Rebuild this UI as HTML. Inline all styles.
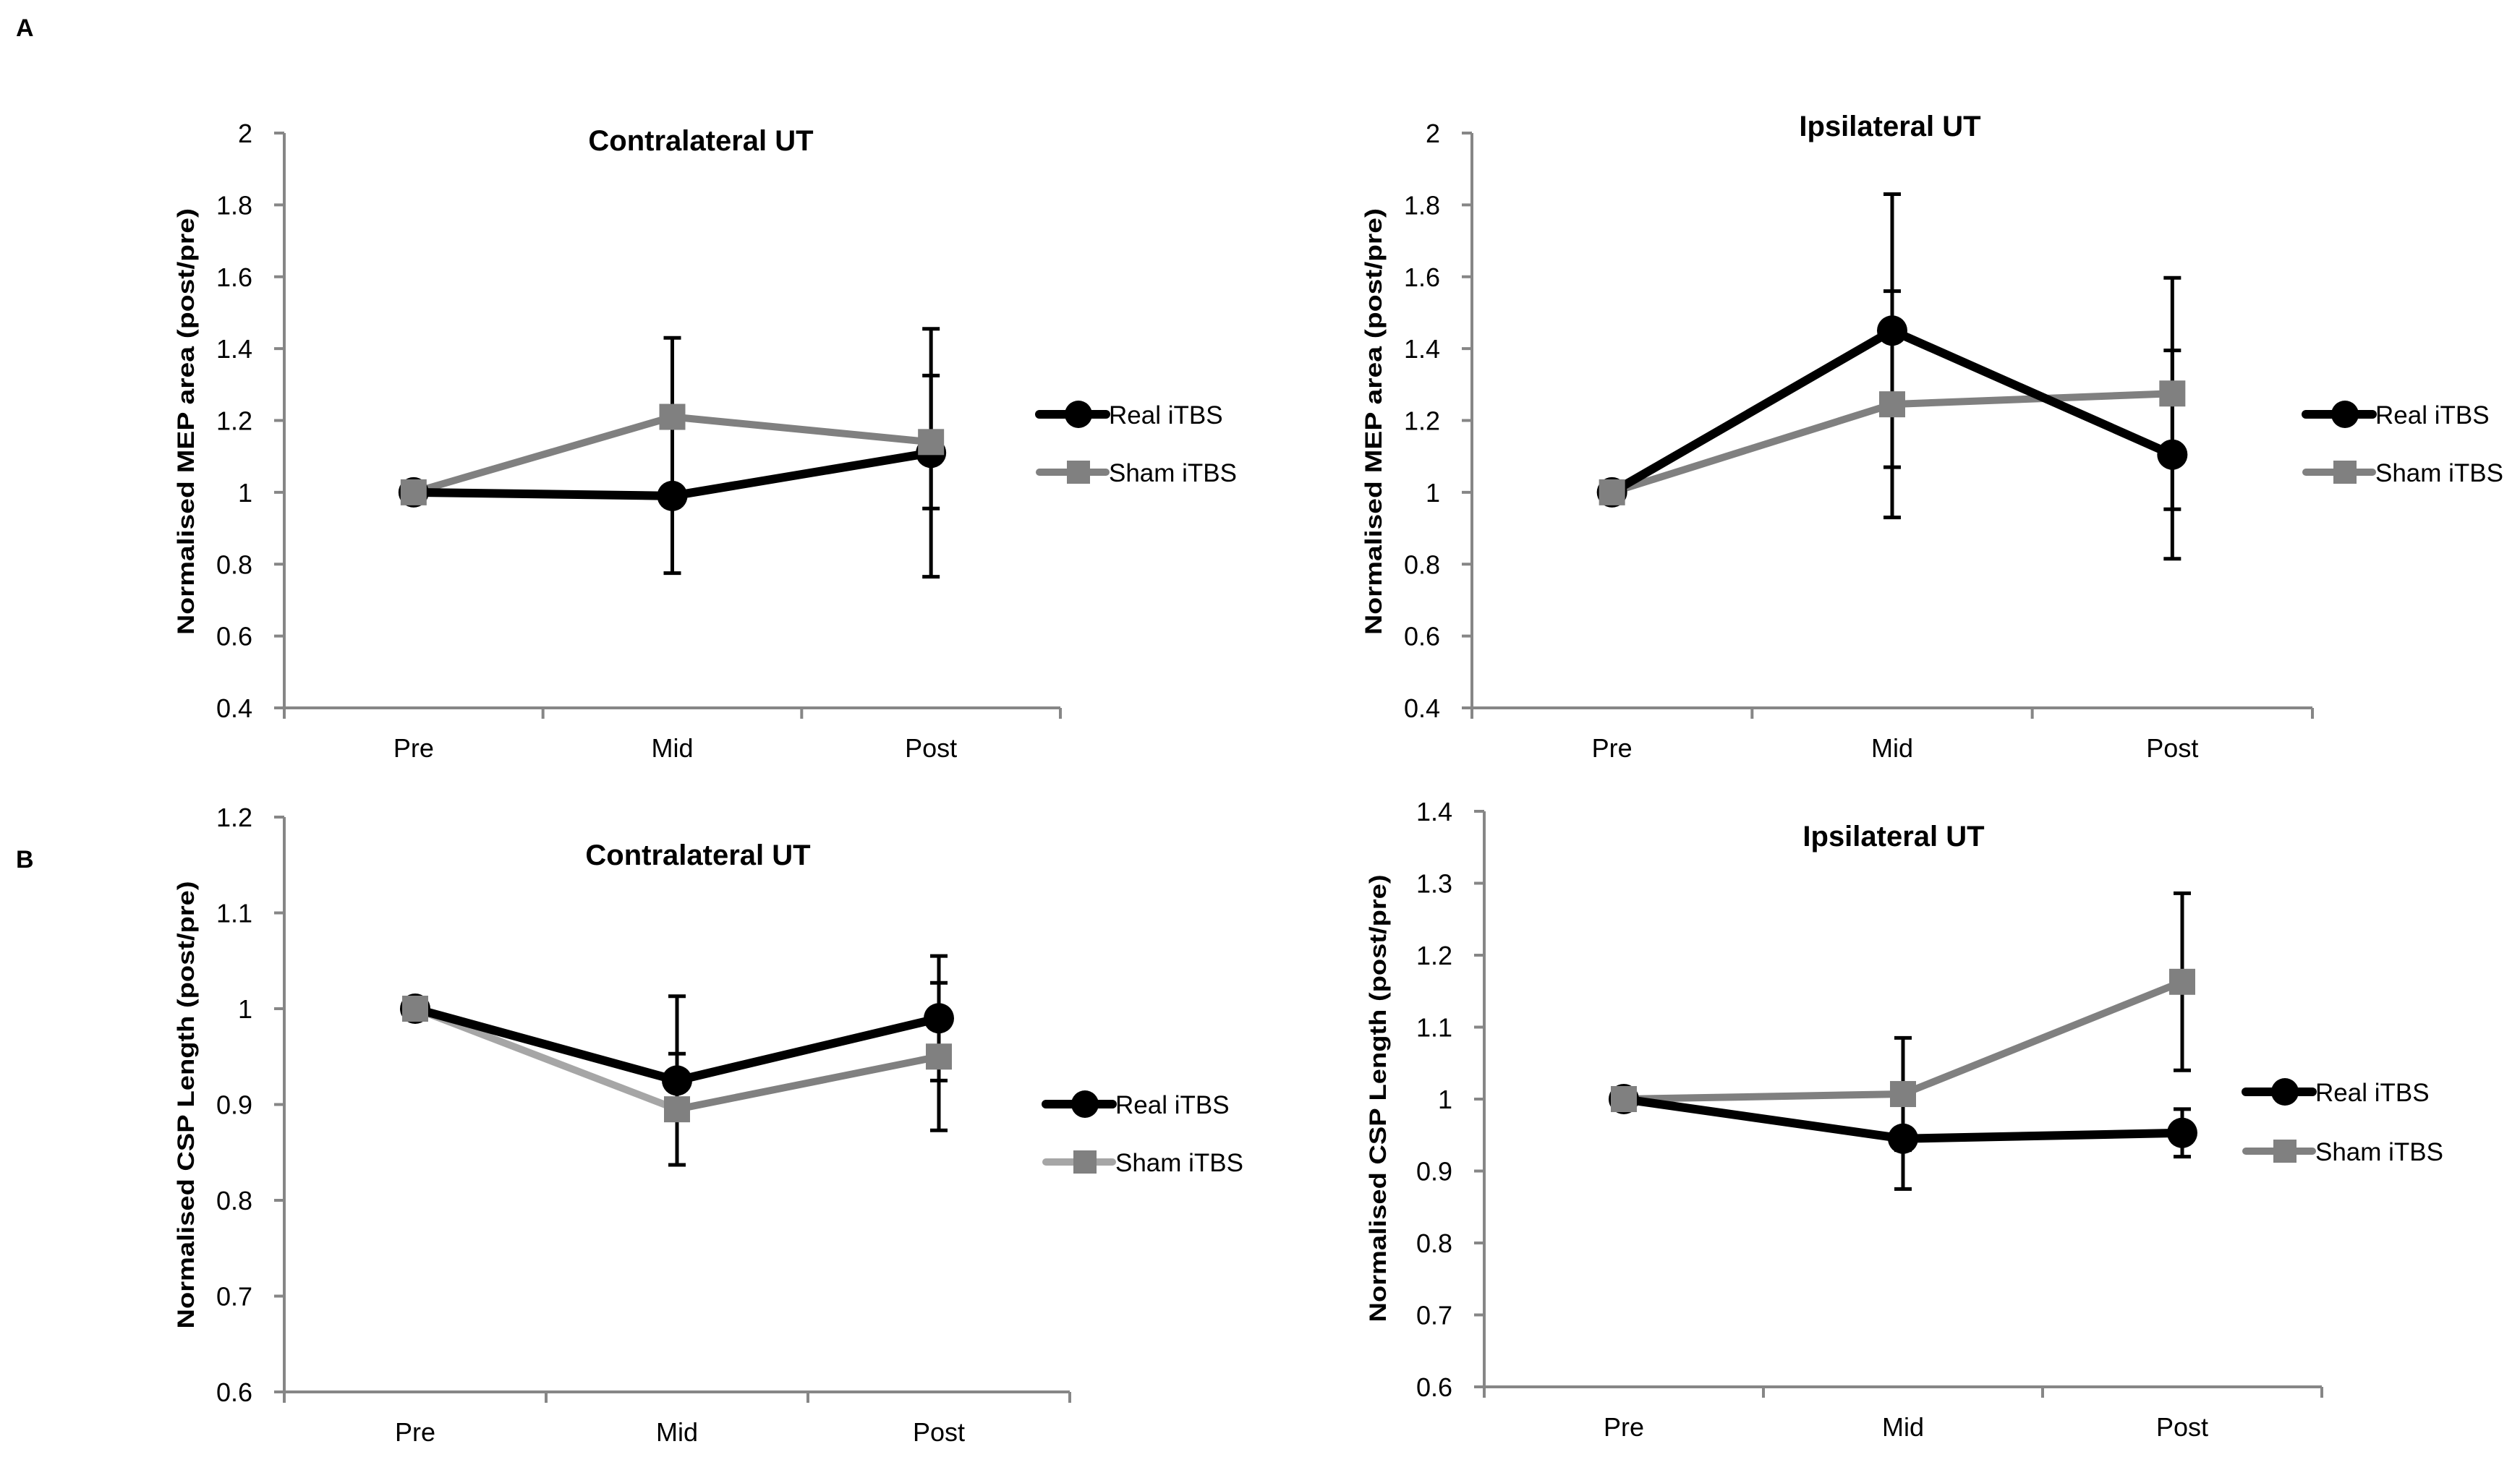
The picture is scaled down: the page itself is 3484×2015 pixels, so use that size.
<!DOCTYPE html>
<html><head><meta charset="utf-8"><style>
html,body{margin:0;padding:0;background:#fff;}
svg{display:block;}
text{font-family:"Liberation Sans",sans-serif;}
</style></head><body>
<svg id="fig" width="3484" height="2015" viewBox="0 0 3484 2015">
<text x="22" y="50" font-size="34" font-weight="bold">A</text>
<text x="22" y="1200" font-size="34" font-weight="bold">B</text>
</svg>
<script>
const categories = ["Pre", "Mid", "Post"];
// A left: Contralateral MEP
const aLeftReal = [1, 0.99, 1.11];
const aLeftRealErr = [0, 0.215, 0.345];
const aLeftSham = [1, 1.21, 1.14];
const aLeftShamErr = [0, 0.22, 0.185];
const aLeftTicks = [0.4, 0.6, 0.8, 1, 1.2, 1.4, 1.6, 1.8, 2];
// A right: Ipsilateral MEP
const aRightReal = [1, 1.45, 1.105];
const aRightRealErr = [0, 0.38, 0.29];
const aRightSham = [1, 1.245, 1.275];
const aRightShamErr = [0, 0.315, 0.322];
const aRightTicks = [0.4, 0.6, 0.8, 1, 1.2, 1.4, 1.6, 1.8, 2];
// B left: Contralateral CSP
const bLeftReal = [1, 0.925, 0.99];
const bLeftRealErr = [0, 0.088, 0.065];
const bLeftSham = [1, 0.895, 0.95];
const bLeftShamErr = [0, 0.058, 0.077];
const bLeftTicks = [0.6, 0.7, 0.8, 0.9, 1, 1.1, 1.2];
// B right: Ipsilateral CSP
const bRightReal = [1, 0.945, 0.953];
const bRightRealErr = [0, 0.07, 0.033];
const bRightSham = [1, 1.007, 1.163];
const bRightShamErr = [0, 0.078, 0.123];
const bRightTicks = [0.6, 0.7, 0.8, 0.9, 1, 1.1, 1.2, 1.3, 1.4];
const legendLabels = ["Real iTBS", "Sham iTBS"];

const NS = "http://www.w3.org/2000/svg";
const svg = document.getElementById("fig");
function mk(tag, attrs, parent, txt) {
  const e = document.createElementNS(NS, tag);
  for (const k in attrs) e.setAttribute(k, attrs[k]);
  if (txt !== undefined) e.textContent = txt;
  (parent || svg).appendChild(e);
  return e;
}

function chart(cfg) {
  const g = mk("g", {});
  
  
  const ymin = cfg.ticks[0], ymax = cfg.ticks[cfg.ticks.length - 1];
  const yS = v => cfg.bottom - (v - ymin) / (ymax - ymin) * (cfg.bottom - cfg.top);
  const band = (cfg.right - cfg.left) / categories.length;
  const xS = i => cfg.left + band * (i + 0.5);
  const ya = mk("line", {x1: cfg.left, y1: cfg.top, x2: cfg.left, y2: cfg.bottom, stroke: "#868686", "stroke-width": 4}, g);
  
  
  const xa = mk("line", {x1: cfg.left - 2, y1: cfg.bottom, x2: cfg.right, y2: cfg.bottom, stroke: "#868686", "stroke-width": 4}, g);
  
  
  cfg.ticks.forEach(t => {
    const y = yS(t);
    mk("line", {x1: cfg.left - 14, y1: y, x2: cfg.left, y2: y, stroke: "#868686", "stroke-width": 4}, g);
    const tl = mk("text", {x: cfg.left - 44, y: y + 13, "font-size": 36, "text-anchor": "end", fill: "#000"}, g, String(t));
    
    
  });
  for (let i = 0; i <= categories.length; i++) {
    const x = cfg.left + band * i;
    mk("line", {x1: x, y1: cfg.bottom, x2: x, y2: cfg.bottom + 15, stroke: "#868686", "stroke-width": 4}, g);
  }
  categories.forEach((c, i) => {
    const tl = mk("text", {x: xS(i), y: cfg.bottom + 68, "font-size": 36, "text-anchor": "middle"}, g, c);
    
    
  });
  const tt = mk("text", {x: cfg.titleX, y: cfg.titleY, "font-size": 40, "font-weight": "bold", "text-anchor": "middle"}, g, cfg.title);
  
  
  const yl = mk("text", {x: 0, y: 0, "font-size": 32, "font-weight": "bold", "text-anchor": "middle",
    transform: `translate(${cfg.ylX},${cfg.ylY}) rotate(-90)`, textLength: cfg.ylLen, lengthAdjust: "spacingAndGlyphs"}, g, cfg.ylabel);
  
  
  function errs(vals, e) {
    vals.forEach((v, i) => {
      if (!e[i]) return;
      const x = xS(i), y1 = yS(v + e[i]), y2 = yS(v - e[i]);
      const eb = mk("g", {stroke: "#000", "stroke-width": 5}, g);
      
      
      mk("line", {x1: x, y1: y1, x2: x, y2: y2}, eb);
      mk("line", {x1: x - 12, y1: y1, x2: x + 12, y2: y1}, eb);
      mk("line", {x1: x - 12, y1: y2, x2: x + 12, y2: y2}, eb);
    });
  }
  errs(cfg.real, cfg.realErr);
  errs(cfg.sham, cfg.shamErr);
  for (let i = 0; i < cfg.sham.length - 1; i++) {
    const col = (cfg.lightFirst && i === 0) ? "#a6a6a6" : "#808080";
    const sl = mk("line", {x1: xS(i), y1: yS(cfg.sham[i]), x2: xS(i + 1), y2: yS(cfg.sham[i + 1]), stroke: col, "stroke-width": 10}, g);
    
    
  }
  const drawReal = () => {
    const pts = cfg.real.map((v, i) => xS(i) + "," + yS(v)).join(" ");
    const rl = mk("polyline", {points: pts, fill: "none", stroke: "#000", "stroke-width": 12, "stroke-linejoin": "round"}, g);
    
    
    cfg.real.forEach((v, i) => {
      const c = mk("circle", {cx: xS(i), cy: yS(v), r: 21, fill: "#000"}, g);
      
      
    });
  };
  const drawShamPts = () => {
    cfg.sham.forEach((v, i) => {
      const s = mk("rect", {x: xS(i) - 18, y: yS(v) - 18, width: 36, height: 36, fill: "#808080"}, g);
      
      
    });
  };
  drawReal(); drawShamPts();
  const lx1 = cfg.legX, lx2 = cfg.legX + 92, mx = (lx1 + lx2) / 2 + 8;
  const le1 = mk("g", {}, g);
  
  
  mk("line", {x1: lx1, y1: cfg.legY1, x2: lx2, y2: cfg.legY1, stroke: "#000", "stroke-width": 12, "stroke-linecap": "round"}, le1);
  mk("circle", {cx: mx, cy: cfg.legY1, r: 19, fill: "#000"}, le1);
  mk("text", {x: lx2 + 4, y: cfg.legY1 + 13, "font-size": 35}, le1, legendLabels[0]);
  const le2 = mk("g", {}, g);
  
  
  mk("line", {x1: lx1, y1: cfg.legY2, x2: lx2, y2: cfg.legY2, stroke: cfg.lightFirst ? "#a6a6a6" : "#808080", "stroke-width": 10, "stroke-linecap": "round"}, le2);
  mk("rect", {x: mx - 16, y: cfg.legY2 - 16, width: 32, height: 32, fill: "#808080"}, le2);
  mk("text", {x: lx2 + 4, y: cfg.legY2 + 13, "font-size": 35}, le2, legendLabels[1]);
}

chart({name: "chart-a-contralateral", left: 393, right: 1466, top: 184, bottom: 979, ticks: aLeftTicks,
  real: aLeftReal, realErr: aLeftRealErr, sham: aLeftSham, shamErr: aLeftShamErr,
  title: "Contralateral UT", titleX: 969, titleY: 208, ylabel: "Normalised MEP area (post/pre)", ylX: 268, ylY: 583, ylLen: 590,
  legX: 1437, legY1: 573, legY2: 653});
chart({name: "chart-a-ipsilateral", left: 2035, right: 3197, top: 184, bottom: 979, ticks: aRightTicks,
  real: aRightReal, realErr: aRightRealErr, sham: aRightSham, shamErr: aRightShamErr,
  title: "Ipsilateral UT", titleX: 2613, titleY: 188, ylabel: "Normalised MEP area (post/pre)", ylX: 1910, ylY: 583, ylLen: 590,
  legX: 3188, legY1: 573, legY2: 653});
chart({name: "chart-b-contralateral", left: 393, right: 1479, top: 1130, bottom: 1925, ticks: bLeftTicks,
  real: bLeftReal, realErr: bLeftRealErr, sham: bLeftSham, shamErr: bLeftShamErr,
  title: "Contralateral UT", titleX: 965, titleY: 1196, ylabel: "Normalised CSP Length (post/pre)", ylX: 268, ylY: 1528, ylLen: 619,
  legX: 1446, legY1: 1527, legY2: 1607, lightFirst: true});
chart({name: "chart-b-ipsilateral", left: 2052, right: 3210, top: 1122, bottom: 1918, ticks: bRightTicks,
  real: bRightReal, realErr: bRightRealErr, sham: bRightSham, shamErr: bRightShamErr,
  title: "Ipsilateral UT", titleX: 2618, titleY: 1170, ylabel: "Normalised CSP Length (post/pre)", ylX: 1916, ylY: 1519, ylLen: 619,
  legX: 3105, legY1: 1510, legY2: 1592});
</script>
</body></html>
